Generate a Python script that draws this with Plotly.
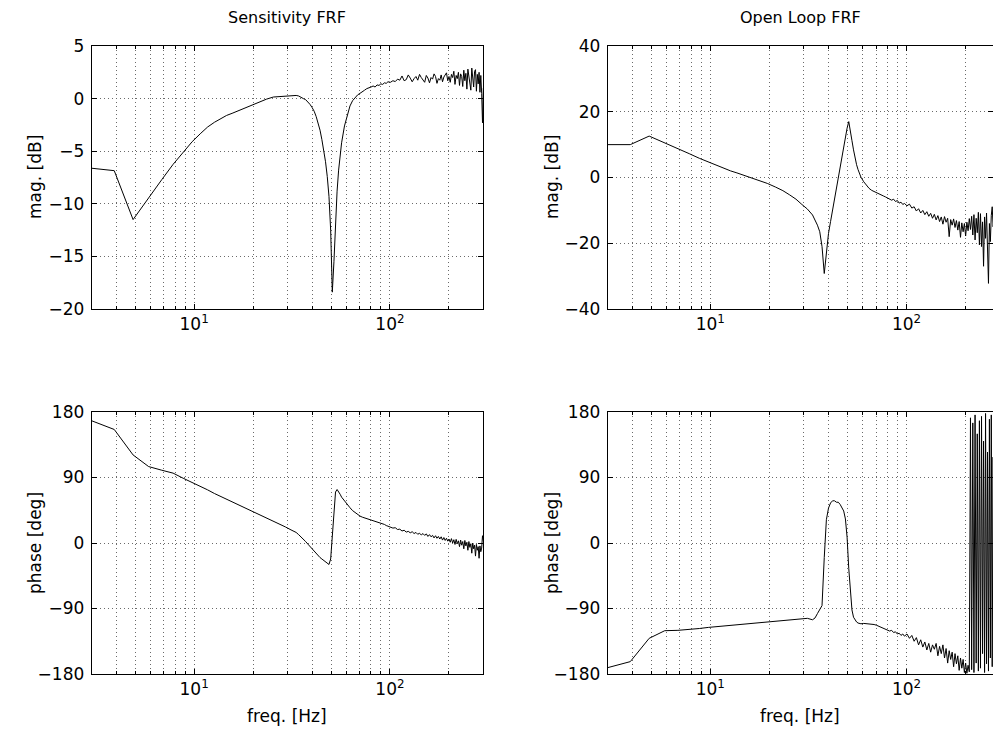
import plotly.graph_objects as go

# ---------------- data ----------------
freq_hz = [2.93, 3.91, 4.88, 5.86, 6.84, 7.81, 8.79, 9.77, 10.74, 11.72, 12.70, 13.67, 14.65, 15.63,
           17.58, 19.53, 21.48, 23.44, 25.39, 27.34, 29.30, 31.25, 33.20, 34.18, 35.16, 36.13, 37.11,
           38.09, 39.06, 40.04, 41.02, 41.99, 42.97, 43.95, 44.92, 45.90, 46.88, 47.85, 48.83, 49.80,
           50.78, 51.76, 52.73, 53.71, 54.69, 55.66, 56.64, 58.59, 60.55, 62.50, 64.45, 66.41, 68.36,
           70.31, 72.27, 74.22, 76.17, 78.13, 80.08, 82.03, 83.98, 85.94, 87.89, 89.84, 91.80, 93.75,
           95.70, 97.66,
           100.59, 103.52, 106.45, 109.38, 112.30, 115.23, 118.16, 121.09, 124.02, 126.95, 129.88,
           132.81, 135.74, 138.67, 141.60, 144.53, 147.46, 150.39, 153.32, 156.25, 159.18, 162.11,
           165.04, 167.97, 170.90, 173.83, 176.76, 179.69, 182.62, 185.55, 188.48, 191.41, 194.34,
           197.27, 200.20, 203.13, 206.05, 208.98, 211.91, 214.84, 217.77, 220.70, 223.63, 226.56,
           229.49, 232.42, 235.35, 238.28, 241.21, 244.14, 247.07, 250.00, 252.93, 255.86, 258.79,
           261.72, 264.65, 267.58, 270.51, 273.44, 276.37, 279.30, 282.23, 285.16, 288.09, 291.02,
           293.95, 296.88, 299.80]

# Sensitivity magnitude [dB]
sens_mag_db = [-6.6, -6.85, -11.5, -9.4, -7.7, -6.25, -5.1, -4.1, -3.35, -2.7, -2.25, -1.9, -1.6, -1.4,
               -1.0, -0.6, -0.3, -0.05, 0.15, 0.2, 0.22, 0.25, 0.3, 0.25, 0.1, 0.0, -0.1,
               -0.3, -0.55, -0.85, -1.2, -1.7, -2.3, -3.0, -3.9, -4.9, -6.0, -7.4, -9.3, -12.5,
               -18.4, -15.5, -11.5, -8.8, -6.8, -5.3, -4.2, -2.6, -1.5, -0.7, -0.2, 0.1, 0.35,
               0.5, 0.7, 0.8, 0.95, 1.0, 1.1, 1.2, 1.1, 1.3, 1.25, 1.4, 1.35, 1.5,
               1.45, 1.6,
               1.55, 1.7, 1.62, 1.85, 1.75, 2.15, 1.7, 1.8, 2.25, 1.95, 1.6, 1.9, 2.1, 1.75, 2.3, 2.0,
               1.7, 1.55, 2.2, 1.95, 1.5, 2.0, 1.85, 2.35, 2.1, 1.45, 1.9, 1.75, 2.25, 1.6, 2.05, 2.2,
               2.45, 1.7, 2.1, 1.55, 2.3, 2.0, 2.6, 1.35, 2.2, 1.9, 2.5, 1.25, 2.35, 2.1, 1.15, 2.7,
               1.7, 2.4, 0.9, 2.8, 2.2, 1.5, 0.8, 2.9, 1.9, 1.1, 2.6, 2.75, 0.7, 2.3, 1.4, 2.5,
               0.6, 2.2, 0.5, -2.3, 1.0]

# Open loop magnitude [dB]
loop_mag_db = [10.0, 10.0, 12.6, 10.6, 8.8, 7.25, 5.85, 4.7, 3.7, 2.8, 2.0, 1.4, 0.8, 0.25,
               -0.75, -1.8, -2.9, -4.0, -5.3, -6.6, -8.2, -9.6, -11.4, -12.8, -14.5, -16.5, -21.0,
               -29.2, -22.0, -17.0, -13.4, -9.9, -6.8, -4.0, -1.0, 2.2, 5.3, 8.4, 11.4, 15.0,
               17.0, 14.5, 11.2, 8.4, 5.9, 3.9, 2.4, 0.1, -1.3, -2.5, -3.3, -3.9, -4.3,
               -4.7, -5.0, -5.2, -5.6, -5.9, -6.2, -6.4, -6.9, -6.6, -7.3, -7.0, -7.8, -7.5,
               -8.2, -7.9,
               -8.6, -8.1, -9.3, -8.9, -10.2, -9.5, -10.8, -10.0, -11.3, -10.4, -11.8, -10.9, -12.4,
               -11.2, -12.9, -11.6, -13.4, -12.0, -14.2, -11.9, -13.6, -12.4, -18.0, -12.8, -14.5,
               -12.6, -15.2, -13.1, -16.0, -13.4, -18.2, -13.8, -16.5, -14.0, -17.8, -13.6, -16.2,
               -12.5, -15.8, -11.8, -17.5, -11.3, -19.0, -12.4, -16.8, -10.6, -20.5, -11.0, -21.0,
               -13.5, -27.0, -12.0, -18.5, -10.8, -22.0, -32.2, -14.0, -19.5, -11.5, -8.9, -15.0,
               -13.0, -18.0, -12.0, -20.0, -14.0, -17.0, -13.0, -16.0]

# Sensitivity phase [deg]
sens_phase_deg = [169, 156, 121, 105, 100, 96, 89, 83.5, 78, 73, 68, 64, 60.5, 57,
                  50.5, 44.5, 39, 34, 29.5, 25.5, 22, 18, 14.5, 11.5, 8.5, 5.5, 2,
                  -1.5, -5, -8.5, -11.5, -14.5, -17.5, -20, -22, -24, -26, -28, -29.5, -22,
                  12, 50, 70, 73.5, 71, 67, 63, 57.5, 53, 48.5, 44.5, 41.5, 39,
                  37, 35.5, 34.5, 33.5, 32.5, 31.5, 30.5, 29.5, 29, 28, 27.5, 26, 25.5,
                  24, 23,
                  22, 20.5, 21, 18.5, 19, 16.5, 17.5, 15, 16, 14, 15.5, 13, 14.5, 12, 13.5, 11,
                  13, 10.5, 12.5, 9, 11.5, 8.5, 10.5, 7, 10, 6.5, 9, 5.5, 8.5, 4, 7.5, 3.5,
                  6.5, 2.5, 5.5, 1, 6, 0, 4.5, -2, 5, -1, 3, -5, 4, -3, 2, -8,
                  3.5, -4, 1, -10, 2, -6, -1, -14, 0, -8, -3, -18, -2, -10, -5, -21,
                  -4, -12, -7, 10, 3]

# Open loop phase [deg]
loop_phase_deg = [-172, -163, -131, -120.5, -120, -119, -117.5, -116, -115, -114, -113, -112, -111, -110.5,
                  -109.5, -108.5, -107.5, -106.5, -106, -105, -104, -103.5, -105.5, -103, -97, -92, -86,
                  -20, 32, 48, 55, 58, 58, 56, 56, 53, 49, 44, 33, 8,
                  -35, -70, -92, -102, -106, -108.5, -110, -111, -110.5, -111, -110.5, -111.5, -112,
                  -113, -114.5, -116, -117.5, -118, -119.5, -121, -120, -123, -122, -125, -124, -127,
                  -125, -128,
                  -125, -131, -127, -135, -130, -140, -133, -143, -136, -147, -138, -150, -140, -146,
                  -138, -155, -142, -152, -140, -158, -145, -165, -148, -160, -150, -170, -152, -166,
                  -155, -175, -158, -172, -160, -178, -165, -179, -168, -177, 172, -174, 165, -178,
                  176, -165, 150, -176, 168, -172, 174, -152, 140, -178, 178, -166, 125, -176, 170,
                  -158, 176, -170, 118, -150, 170, -165, 160, -172, 175, -160, 150]

for name, arr in [("sens_mag_db", sens_mag_db), ("loop_mag_db", loop_mag_db),
                  ("sens_phase_deg", sens_phase_deg), ("loop_phase_deg", loop_phase_deg)]:
    assert len(arr) == len(freq_hz), (name, len(arr), len(freq_hz))

x_major_ticks = [10, 100]
x_major_labels = ["10<sup>1</sup>", "10<sup>2</sup>"]
x_minor_ticks = [3, 4, 5, 6, 7, 8, 9, 20, 30, 40, 50, 60, 70, 80, 90, 200, 300]
mag_s_ticks = [-20, -15, -10, -5, 0, 5]
mag_l_ticks = [-40, -20, 0, 20, 40]
phase_ticks = [-180, -90, 0, 90, 180]

titles = ["Sensitivity FRF", "Open Loop FRF"]

# ---------------- layout ----------------
W, H = 993, 736
FONT = "DejaVu Sans"
GRID = "#6a6a6a"
DASH = "1px,3px"


def lab(v):
    return ("\u2212" + str(abs(v))) if v < 0 else str(v)


def xax(dom, rng):
    return dict(type="log", domain=dom, range=rng, showline=True, linecolor="black", linewidth=1,
                mirror="ticks", ticks="inside", ticklen=5, tickwidth=1, tickcolor="black",
                tickmode="array", tickvals=x_major_ticks, ticktext=x_major_labels,
                tickfont=dict(family=FONT, size=17, color="black"),
                showgrid=True, gridcolor=GRID, griddash=DASH, gridwidth=1, zeroline=False,
                minor=dict(tickmode="array", tickvals=x_minor_ticks, ticks="inside", ticklen=3,
                           tickcolor="black", tickwidth=1, showgrid=True, gridcolor=GRID,
                           griddash=DASH, gridwidth=1),
                automargin=False, fixedrange=True)


def yax(dom, rng, ticks, anchor):
    return dict(domain=dom, range=rng, anchor=anchor, showline=True, linecolor="black", linewidth=1,
                mirror="ticks", ticks="inside", ticklen=5, tickwidth=1, tickcolor="black",
                tickmode="array", tickvals=ticks, ticktext=[lab(t) for t in ticks],
                tickfont=dict(family=FONT, size=17, color="black"), ticklabelstandoff=3,
                showgrid=True, gridcolor=GRID, griddash=DASH, gridwidth=1, zeroline=False,
                automargin=False, fixedrange=True)


xl = [91.7 / W, 483.0 / W]
xr = [607.7 / W, 1.0]
yt = [1 - 309.0 / H, 1 - 46.0 / H]
yb = [1 - 674.0 / H, 1 - 412.0 / H]
rng_l = [0.4771, 2.4751]
rng_r = [0.4771, 0.4771 + (993 - 607.7) / 196.2]

fig = go.Figure()
line = dict(color="black", width=1)
fig.add_trace(go.Scatter(x=freq_hz, y=sens_mag_db, mode="lines", line=line, xaxis="x", yaxis="y"))
fig.add_trace(go.Scatter(x=freq_hz, y=loop_mag_db, mode="lines", line=line, xaxis="x2", yaxis="y2"))
fig.add_trace(go.Scatter(x=freq_hz, y=sens_phase_deg, mode="lines", line=line, xaxis="x3", yaxis="y3"))
fig.add_trace(go.Scatter(x=freq_hz, y=loop_phase_deg, mode="lines", line=line, xaxis="x4", yaxis="y4"))

title_font = dict(family=FONT, size=16, color="black")
label_font = dict(family=FONT, size=17, color="black")
annotations = [
    dict(text=titles[0], x=287 / W, y=1 - 17 / H, font=title_font),
    dict(text=titles[1], x=800 / W, y=1 - 17 / H, font=title_font),
    dict(text="mag. [dB]", x=35 / W, y=1 - 177 / H, textangle=-90, font=label_font),
    dict(text="mag. [dB]", x=552 / W, y=1 - 177 / H, textangle=-90, font=label_font),
    dict(text="phase [deg]", x=35 / W, y=1 - 543 / H, textangle=-90, font=label_font),
    dict(text="phase [deg]", x=552 / W, y=1 - 543 / H, textangle=-90, font=label_font),
    dict(text="freq. [Hz]", x=287 / W, y=1 - 716 / H, font=label_font),
    dict(text="freq. [Hz]", x=800 / W, y=1 - 716 / H, font=label_font),
]
for a in annotations:
    a.update(xref="paper", yref="paper", xanchor="center", yanchor="middle", showarrow=False)

fig.update_layout(
    width=W, height=H, margin=dict(l=0, r=0, t=0, b=0),
    paper_bgcolor="white", plot_bgcolor="white", showlegend=False,
    xaxis=xax(xl, rng_l) | dict(anchor="y"),
    yaxis=yax(yt, [-20, 5], mag_s_ticks, "x"),
    xaxis2=xax(xr, rng_r) | dict(anchor="y2"),
    yaxis2=yax(yt, [-40, 40], mag_l_ticks, "x2"),
    xaxis3=xax(xl, rng_l) | dict(anchor="y3"),
    yaxis3=yax(yb, [-180, 180], phase_ticks, "x3"),
    xaxis4=xax(xr, rng_r) | dict(anchor="y4"),
    yaxis4=yax(yb, [-180, 180], phase_ticks, "x4"),
    annotations=annotations,
)

fig.write_html("out.html", config={"displayModeBar": False},
               post_script="document.body.style.margin='0';document.body.style.overflow='hidden';")
